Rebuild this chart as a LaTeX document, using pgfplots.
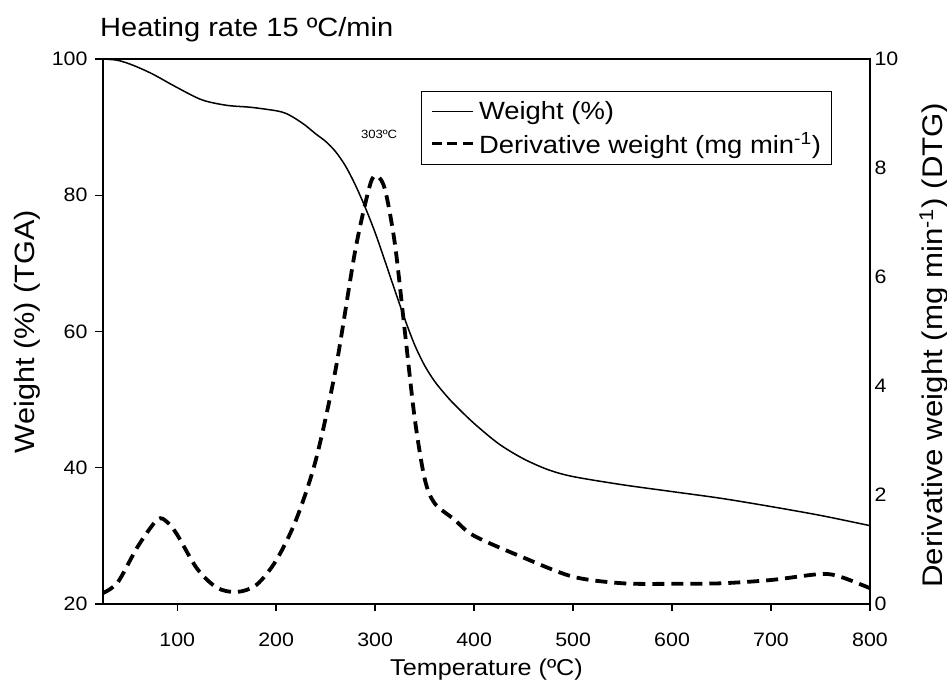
\documentclass[border=0pt]{standalone}
\usepackage{fontspec}
\setmainfont{Liberation Sans}[FakeStretch=1.1]
\usepackage{pgfplots}
\pgfplotsset{compat=1.18}
\usetikzlibrary{calc}
\begin{document}
\begin{tikzpicture}
\begin{axis}[
  name=main,
  scale only axis, width=767bp, height=545bp,
  xmin=25, xmax=800, ymin=20, ymax=100,
  xtick={100,200,300,400,500,600,700,800},
  xticklabels={100,200,300,400,500,600,700,800},
  ytick={20,40,60,80,100},
  yticklabels={20,40,60,80,100},
  xtick pos=bottom, ytick pos=left,
  tick align=outside,
  major tick length=7bp,
  major tick style={draw=black, line width=1.2bp},
  axis line style={line width=1.2bp},
  tick label style={font=\fontsize{19.5}{21}\selectfont},
  xticklabel style={yshift=-18bp},
  yticklabel style={xshift=-5bp},
  xlabel={Temperature (ºC)}, ylabel={Weight (\%) (TGA)},
  xlabel style={font=\fontsize{23}{26}\selectfont, at={(axis description cs:0.5,-0.1303)}, anchor=base},
  ylabel style={font=\fontsize{28}{30}\selectfont, at={(axis description cs:-0.0887,0.5)}, anchor=base},
  clip=false,
]
\addplot[black, line width=1.5bp, smooth] coordinates {
(25,100) (40,99.8) (55,99.1) (75,97.8) (100,95.8) (125,94.0) (150,93.2) (175,92.9) (200,92.4) (210,92.0) (220,91.2) (230,90.2) (240,89.0) (250,87.9) (260,86.4) (270,84.3) (280,81.5) (290,78.2) (300,74.5) (310,70.3) (320,66) (330,61.8) (340,58) (350,55) (360,52.7) (370,50.9) (380,49.3) (400,46.5) (425,43.5) (450,41.3) (475,39.7) (500,38.7) (550,37.5) (600,36.5) (650,35.5) (700,34.3) (750,33) (800,31.5)
};
\node[anchor=base west, font=\fontsize{26.5}{30}\selectfont, inner sep=0pt] at ([xshift=-3bp,yshift=22bp]rel axis cs:0,1) {Heating rate 15 ºC/min};
\node[font=\fontsize{12}{13}\selectfont] at (axis cs:304,89) {303ºC};
\end{axis}
\begin{axis}[
  scale only axis, width=767bp, height=545bp,
  xmin=25, xmax=800, ymin=0, ymax=10,
  ytick={0,2,4,6,8,10},
  yticklabels={0,2,4,6,8,10},
  axis x line=none, axis y line*=right,
  major tick length=0bp,
  clip=false,
  axis line style={line width=1.2bp},
  tick label style={font=\fontsize{19.5}{21}\selectfont},
  yticklabel style={xshift=1bp},
  ylabel={Derivative weight (mg min\textsuperscript{-1}) (DTG)},
  ylabel style={font=\fontsize{28.5}{30}\selectfont, at={(axis description cs:1.0939,0.475)}, anchor=base},
  legend style={at={(0.4146,0.9413)}, anchor=north west, draw=black, line width=1.1bp,
    font=\fontsize{25}{28}\selectfont, inner xsep=9bp, inner ysep=8bp,
    nodes={inner sep=2bp}, column sep=3bp, row sep=7bp},
  legend cell align=left,
  legend image code/.code={\draw[#1] (0bp,0bp) -- (41bp,0bp);},
]
\addlegendimage{black, line width=1.5bp}
\addlegendentry{Weight (\%)}
\addplot[black, line width=3.8bp, dash pattern=on 12bp off 7bp, smooth,
  legend image code/.code={\draw[black, line width=2.5bp, dash pattern=on 10bp off 5.5bp] (0bp,0bp) -- (41bp,0bp);}] coordinates {
(25,0.2) (40,0.4) (60,1.05) (80,1.55) (90,1.5) (100,1.27) (120,0.65) (140,0.3) (160,0.22) (180,0.35) (200,0.8) (220,1.54) (240,2.64) (260,4.3) (280,6.5) (295,7.7) (302,7.85) (310,7.6) (320,6.6) (330,5.0) (340,3.4) (350,2.3) (360,1.85) (380,1.55) (400,1.25) (450,0.85) (500,0.5) (550,0.38) (600,0.37) (650,0.38) (700,0.44) (750,0.55) (770,0.5) (800,0.29)
};
\addlegendentry{Derivative weight (mg min\textsuperscript{-1})}
\end{axis}
\foreach \t in {100,200,300,400,500,600,700,800} {
  \pgfmathsetmacro\f{(\t-25)/775}
  \fill[black] ($(main.south west)!\f!(main.south east)+(-0.7bp,0)$) rectangle ++(1.4bp,-7.5bp);
}
\foreach \v in {20,40,60,80,100} {
  \pgfmathsetmacro\f{(\v-20)/80}
  \fill[black] ($(main.south west)!\f!(main.north west)+(0,-0.7bp)$) rectangle ++(-7.5bp,1.4bp);
}
\pgfresetboundingbox
\path ([xshift=-103bp, yshift=-81bp]main.south west) rectangle ([xshift=77bp, yshift=59bp]main.north east);
\end{tikzpicture}
\end{document}
